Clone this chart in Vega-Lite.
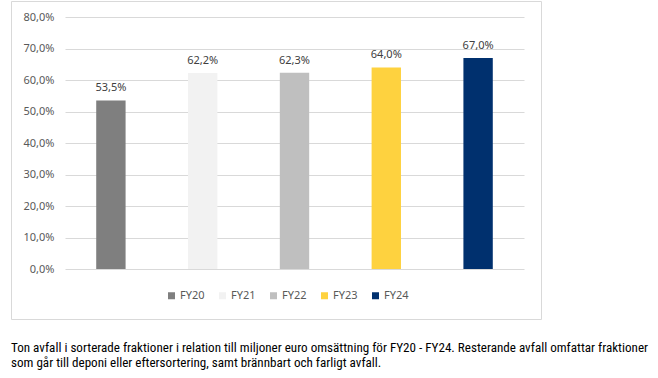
{
  "$schema": "https://vega.github.io/schema/vega-lite/v6.json",
  "width": 530,
  "height": 318,
  "autosize": {"type": "none"},
  "padding": {"left": 11, "top": 1, "right": 117, "bottom": 59},
  "config": {
    "locale": {"number": {"decimal": ",", "thousands": " ", "grouping": [3], "currency": ["", " €"]}},
    "view": {"stroke": "#d9d9d9", "strokeWidth": 1},
    "font": "Noto Sans"
  },
  "data": {
    "values": [
      {"year": "FY20", "share": 0.535},
      {"year": "FY21", "share": 0.622},
      {"year": "FY22", "share": 0.623},
      {"year": "FY23", "share": 0.640},
      {"year": "FY24", "share": 0.670}
    ]
  },
  "encoding": {
    "x": {
      "field": "year",
      "type": "nominal",
      "sort": null,
      "scale": {"range": [54, 513], "paddingInner": 0.68, "paddingOuter": 0.34},
      "axis": null
    },
    "y": {
      "field": "share",
      "type": "quantitative",
      "scale": {"domain": [0, 0.8], "range": [268, 16]},
      "axis": {
        "values": [0, 0.1, 0.2, 0.3, 0.4, 0.5, 0.6, 0.7, 0.8],
        "format": ".1%",
        "domain": false,
        "ticks": false,
        "offset": -54,
        "labelPadding": 11,
        "labelFontSize": 11,
        "labelColor": "#595959",
        "gridColor": "#d9d9d9",
        "title": null
      }
    }
  },
  "layer": [
    {
      "mark": {"type": "bar"},
      "encoding": {
        "color": {
          "field": "year",
          "type": "nominal",
          "sort": null,
          "scale": {
            "domain": ["FY20", "FY21", "FY22", "FY23", "FY24"],
            "range": ["#7f7f7f", "#f2f2f2", "#bfbfbf", "#fed23f", "#00306e"]
          },
          "legend": {
            "orient": "none",
            "legendX": 155,
            "legendY": 289,
            "direction": "horizontal",
            "title": null,
            "symbolType": "square",
            "symbolSize": 49,
            "symbolStrokeWidth": 0,
            "labelFontSize": 11,
            "labelColor": "#595959",
            "labelOffset": 3,
            "columnPadding": 12
          }
        }
      }
    },
    {
      "mark": {"type": "text", "baseline": "bottom", "dy": -7, "fontSize": 11, "color": "#404040"},
      "encoding": {"text": {"field": "share", "type": "quantitative", "format": ".1%"}}
    }
  ],
  "title": {
    "text": [
      "Ton avfall i sorterade fraktioner i relation till miljoner euro omsättning för FY20 - FY24. Resterande avfall omfattar fraktioner",
      "som går till deponi eller eftersortering, samt brännbart och farligt avfall."
    ],
    "orient": "bottom",
    "anchor": "start",
    "frame": "group",
    "offset": 23,
    "font": "Roboto Condensed, Roboto",
    "fontSize": 13.1,
    "fontWeight": "normal",
    "color": "#000000",
    "lineHeight": 15,
    "baseline": "top"
  }
}
